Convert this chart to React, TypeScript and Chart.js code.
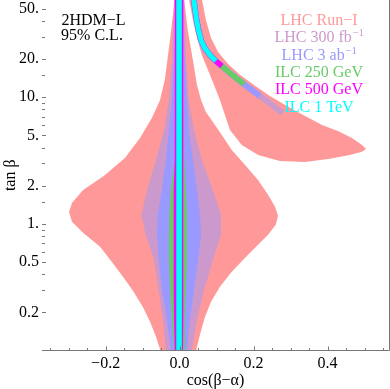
import React, { useEffect, useRef } from "react";
import { Chart, registerables } from "chart.js";

Chart.register(...registerables);

// ---------- axes ----------
const X_MIN = -0.372;
const X_MAX = 0.566;
const Y_MIN = 0.1;
const Y_MAX = 58.5;

const xMajorTicks = [-0.2, 0, 0.2, 0.4];
const xMajorLabels = ["\u22120.2", "0.0", "0.2", "0.4"];
const xMinorTicks = [-0.35, -0.3, -0.25, -0.15, -0.1, -0.05, 0.05, 0.1, 0.15, 0.25, 0.3, 0.35, 0.45, 0.5, 0.55];
const yMajorTicks = [0.2, 0.5, 1, 2, 5, 10, 20, 50];
const yMajorLabels = ["0.2", "0.5", "1.", "2.", "5.", "10.", "20.", "50."];
const yMinorTicks = [0.3, 0.4, 0.6, 0.7, 0.8, 0.9, 1.5, 3, 4, 6, 7, 8, 9, 15, 30, 40];

// ---------- LHC Run-I (central region outline: cos(b-a), tan b) ----------
const run1CoreX = [
  -0.013, -0.026, -0.040, -0.053, -0.075, -0.107, -0.148, -0.205, -0.261, -0.291, -0.299,
  -0.291, -0.261, -0.215, -0.183, -0.151, -0.124, -0.099, -0.080, -0.064, -0.051,
  0.044, 0.055, 0.068, 0.085, 0.109, 0.141, 0.177, 0.212, 0.239, 0.260, 0.266, 0.258,
  0.239, 0.212, 0.177, 0.141, 0.114, 0.090, 0.071, 0.058, 0.047, 0.036, 0.022, 0.012,
];
const run1CoreT = [
  60, 28.3, 13.7, 9.5, 6.85, 4.77, 3.31, 2.39, 1.85, 1.46, 1.24,
  1.04, 0.85, 0.66, 0.5, 0.375, 0.29, 0.22, 0.169, 0.129, 0.098,
  0.098, 0.133, 0.182, 0.243, 0.319, 0.418, 0.539, 0.683, 0.819, 0.982, 1.157, 1.362,
  1.693, 2.22, 2.92, 3.83, 5.03, 6.37, 7.64, 9.5, 12.5, 19.6, 33.9, 60,
];

// ---------- LHC Run-I (wrong-sign arm outline) ----------
const run1ArmX = [
  0.025, 0.036, 0.047, 0.060, 0.082, 0.109, 0.136, 0.168, 0.212, 0.271, 0.339, 0.406, 0.460, 0.493,
  0.504, 0.493, 0.466, 0.428, 0.385, 0.339, 0.290, 0.244, 0.204, 0.163, 0.131, 0.104, 0.085, 0.071, 0.060,
];
const run1ArmT = [
  60, 40.6, 29.3, 21.5, 15.0, 9.5, 5.51, 4.2, 3.5, 3.14, 3.08, 3.26, 3.5, 3.7,
  3.9, 4.2, 4.77, 5.41, 6.04, 7.11, 8.52, 10.2, 12.3, 15.0, 18.3, 22.7, 29.3, 40.6, 60,
];

// ---------- central bands: left / right edges at these tan b levels ----------
const bandT = [60, 19.6, 9.5, 5.5, 3.2, 1.85, 1.18, 0.82, 0.52, 0.3, 0.175, 0.098];
const lhc300Left = [-0.015, -0.021, -0.029, -0.042, -0.064, -0.088, -0.103, -0.092, -0.069, -0.057, -0.045, -0.037];
const lhc300Right = [0.012, 0.017, 0.025, 0.039, 0.060, 0.090, 0.112, 0.112, 0.090, 0.066, 0.047, 0.033];
const lhc3abLeft = [-0.011, -0.015, -0.021, -0.029, -0.037, -0.048, -0.059, -0.061, -0.056, -0.048, -0.034, -0.024];
const lhc3abRight = [0.010, 0.014, 0.020, 0.025, 0.036, 0.047, 0.055, 0.058, 0.050, 0.039, 0.028, 0.020];
const ilc250Left = [-0.011, -0.011, -0.011, -0.013, -0.013, -0.024, -0.028, -0.029, -0.029, -0.026, -0.021, -0.015];
const ilc250Right = [0.009, 0.009, 0.010, 0.012, 0.013, 0.017, 0.020, 0.020, 0.020, 0.017, 0.014, 0.012];
const ilc500Left = [-0.013, -0.013, -0.013, -0.013, -0.014, -0.016, -0.016, -0.016, -0.016, -0.016, -0.015, -0.013];
const ilc500Right = [0.010, 0.010, 0.010, 0.010, 0.010, 0.010, 0.010, 0.010, 0.010, 0.010, 0.010, 0.009];
const ilc1Left = [-0.009, -0.009, -0.009, -0.009, -0.009, -0.009, -0.009, -0.009, -0.009, -0.009, -0.009, -0.009];
const ilc1Right = [0.006, 0.006, 0.006, 0.006, 0.006, 0.006, 0.006, 0.006, 0.006, 0.006, 0.006, 0.006];

// ---------- wrong-sign arm centre curve and how far each set reaches ----------
const armX = [0.038, 0.042, 0.046, 0.051, 0.058, 0.068, 0.082, 0.098, 0.114, 0.133, 0.152, 0.174, 0.195, 0.217, 0.239, 0.260, 0.279];
const armT = [60, 48.7, 40.6, 33.9, 28.3, 24.4, 21.5, 19.3, 17.6, 15.8, 14.2, 12.7, 11.4, 10.2, 9.2, 8.2, 7.5];
const armPoints = { lhc300: 17, lhc3ab: 14, ilc250: 12, ilc500: 9, ilc1: 8 };

// ---------- legend ----------
const legendNames = ["LHC Run\u2212I", "LHC 300 fb", "LHC 3 ab", "ILC 250 GeV", "ILC 500 GeV", "ILC 1 TeV"];
const legendSup = ["", "\u22121", "\u22121", "", "", ""];
const notes = ["2HDM\u2212L", "95% C.L."];

const C_RUN1 = "rgb(255,153,153)";
const C_300 = "rgb(204,153,204)";
const C_3AB = "rgb(153,153,255)";
const C_250 = "rgb(102,204,102)";
const C_500 = "rgb(255,0,255)";
const C_1T = "rgb(0,255,255)";
const legendColors = [C_RUN1, C_300, C_3AB, C_250, C_500, C_1T];

const FAMILY = '"Liberation Serif", "Times New Roman", serif';
const AXIS_COLOR = "rgb(120,120,120)";

const pts = (xs: number[], ts: number[]) => xs.map((x, i) => ({ x, y: ts[i] }));
const band = (l: number[], r: number[]) =>
  pts(l, bandT).concat(pts(r, bandT).reverse());

const poly = (data: any[], color: string, order: number) => ({
  data,
  showLine: true,
  fill: "shape",
  backgroundColor: color,
  borderColor: color,
  borderWidth: 0,
  pointRadius: 0,
  order,
});
const armLine = (n: number, color: string, width: number, order: number) => ({
  data: pts(armX.slice(0, n), armT.slice(0, n)),
  showLine: true,
  fill: false,
  borderColor: color,
  borderWidth: width,
  borderCapStyle: "butt",
  borderJoinStyle: "round",
  pointRadius: 0,
  order,
});

const labelFor = (ticks: number[], labels: string[], v: number) => {
  const i = ticks.findIndex((t) => Math.abs(t - v) < 1e-9);
  return i >= 0 ? labels[i] : "";
};

const framePlugin = {
  id: "frameTicks",
  afterDraw(chart: any) {
    const { ctx, chartArea: a, scales } = chart;
    ctx.save();
    ctx.strokeStyle = AXIS_COLOR;
    ctx.lineWidth = 1;
    const by = Math.floor(a.bottom) + 0.5;
    const rx = Math.floor(a.right) + 0.5;
    ctx.beginPath();
    ctx.moveTo(a.left, by);
    ctx.lineTo(rx, by);
    ctx.moveTo(rx, by);
    ctx.lineTo(rx, 0);
    ctx.stroke();
    ctx.beginPath();
    for (const t of scales.x.ticks) {
      const major = xMajorTicks.some((m) => Math.abs(m - t.value) < 1e-9);
      const px = Math.round(scales.x.getPixelForValue(t.value)) + 0.5;
      ctx.moveTo(px, by);
      ctx.lineTo(px, by - (major ? 4 : 2.5));
    }
    for (const t of scales.y.ticks) {
      const major = yMajorTicks.some((m) => Math.abs(m - t.value) < 1e-9);
      const py = Math.round(scales.y.getPixelForValue(t.value)) + 0.5;
      ctx.moveTo(a.left, py);
      ctx.lineTo(a.left + (major ? 4 : 3), py);
    }
    ctx.stroke();
    ctx.restore();
  },
};

const textPlugin = {
  id: "texts",
  afterDatasetsDraw(chart: any) {
    const { ctx } = chart;
    ctx.save();
    ctx.textBaseline = "alphabetic";
    ctx.textAlign = "left";
    ctx.fillStyle = "#000";
    ctx.font = `16px ${FAMILY}`;
    const noteCx = [93.5, 92];
    const noteY = [25, 39.5];
    notes.forEach((s, i) => {
      const w = ctx.measureText(s).width;
      ctx.fillText(s, noteCx[i] - w / 2, noteY[i]);
    });
    legendNames.forEach((s, i) => {
      ctx.font = `16px ${FAMILY}`;
      const w1 = ctx.measureText(s).width;
      ctx.font = `11px ${FAMILY}`;
      const w2 = legendSup[i] ? ctx.measureText(legendSup[i]).width : 0;
      const x0 = 319 - (w1 + w2) / 2;
      const y = 25 + i * 17.3;
      ctx.fillStyle = legendColors[i];
      ctx.font = `16px ${FAMILY}`;
      ctx.fillText(s, x0, y);
      if (legendSup[i]) {
        ctx.font = `11px ${FAMILY}`;
        ctx.fillText(legendSup[i], x0 + w1 + 0.5, y - 6);
      }
    });
    ctx.restore();
  },
};

export default function App() {
  const ref = useRef<HTMLCanvasElement | null>(null);
  useEffect(() => {
    document.body.style.margin = "0";
    const canvas = ref.current;
    if (!canvas) return;
    const chart = new Chart(canvas, {
      type: "scatter",
      data: {
        datasets: [
          poly(pts(run1CoreX, run1CoreT), C_RUN1, 20),
          poly(pts(run1ArmX, run1ArmT), C_RUN1, 20),
          poly(band(lhc300Left, lhc300Right), C_300, 15),
          armLine(armPoints.lhc300, C_300, 6, 15),
          poly(band(lhc3abLeft, lhc3abRight), C_3AB, 14),
          armLine(armPoints.lhc3ab, C_3AB, 6, 14),
          poly(band(ilc250Left, ilc250Right), C_250, 13),
          armLine(armPoints.ilc250, C_250, 5.5, 13),
          poly(band(ilc500Left, ilc500Right), C_500, 12),
          armLine(armPoints.ilc500, C_500, 5.5, 12),
          poly(band(ilc1Left, ilc1Right), C_1T, 11),
          armLine(armPoints.ilc1, C_1T, 5, 11),
        ] as any,
      },
      options: {
        responsive: false,
        animation: false,
        devicePixelRatio: 1,
        layout: { padding: { top: 0, right: 1, left: 0, bottom: 0 } },
        plugins: { legend: { display: false }, tooltip: { enabled: false } },
        scales: {
          x: {
            type: "linear",
            min: X_MIN,
            max: X_MAX,
            bounds: "data",
            afterFit: (s: any) => {
              s.height = 38.5;
              s.paddingLeft = 0;
              s.paddingRight = 0;
            },
            afterBuildTicks: (s: any) => {
              s.ticks = [...xMinorTicks, ...xMajorTicks].sort((a, b) => a - b).map((v) => ({ value: v }));
            },
            ticks: {
              autoSkip: false,
              maxRotation: 0,
              padding: 4,
              color: "#000",
              font: { family: FAMILY, size: 16 },
              callback: (v: any) => labelFor(xMajorTicks, xMajorLabels, Number(v)),
            },
            grid: { display: false, drawTicks: false },
            border: { display: false },
            title: {
              display: true,
              text: "cos(\u03b2\u2212\u03b1)",
              color: "#000",
              font: { family: FAMILY, size: 16, lineHeight: 1 },
              padding: { top: 0, bottom: 0 },
            },
          },
          y: {
            type: "logarithmic",
            min: Y_MIN,
            max: Y_MAX,
            bounds: "data",
            afterFit: (s: any) => {
              s.width = 42;
              s.paddingTop = 0;
              s.paddingBottom = 0;
            },
            afterBuildTicks: (s: any) => {
              s.ticks = [...yMinorTicks, ...yMajorTicks].sort((a, b) => a - b).map((v) => ({ value: v }));
            },
            ticks: {
              autoSkip: false,
              padding: 3,
              color: "#000",
              font: { family: FAMILY, size: 16 },
              callback: (v: any) => labelFor(yMajorTicks, yMajorLabels, Number(v)),
            },
            grid: { display: false, drawTicks: false },
            border: { display: false },
            title: {
              display: true,
              text: "tan \u03b2",
              color: "#000",
              font: { family: FAMILY, size: 16, lineHeight: 1 },
              padding: { top: 3, bottom: 0 },
            },
          },
        },
      } as any,
      plugins: [framePlugin, textPlugin],
    });
    return () => chart.destroy();
  }, []);
  return (
    <div style={{ width: 390, height: 389 }}>
      <canvas ref={ref} width={390} height={389} style={{ display: "block" }} />
    </div>
  );
}
